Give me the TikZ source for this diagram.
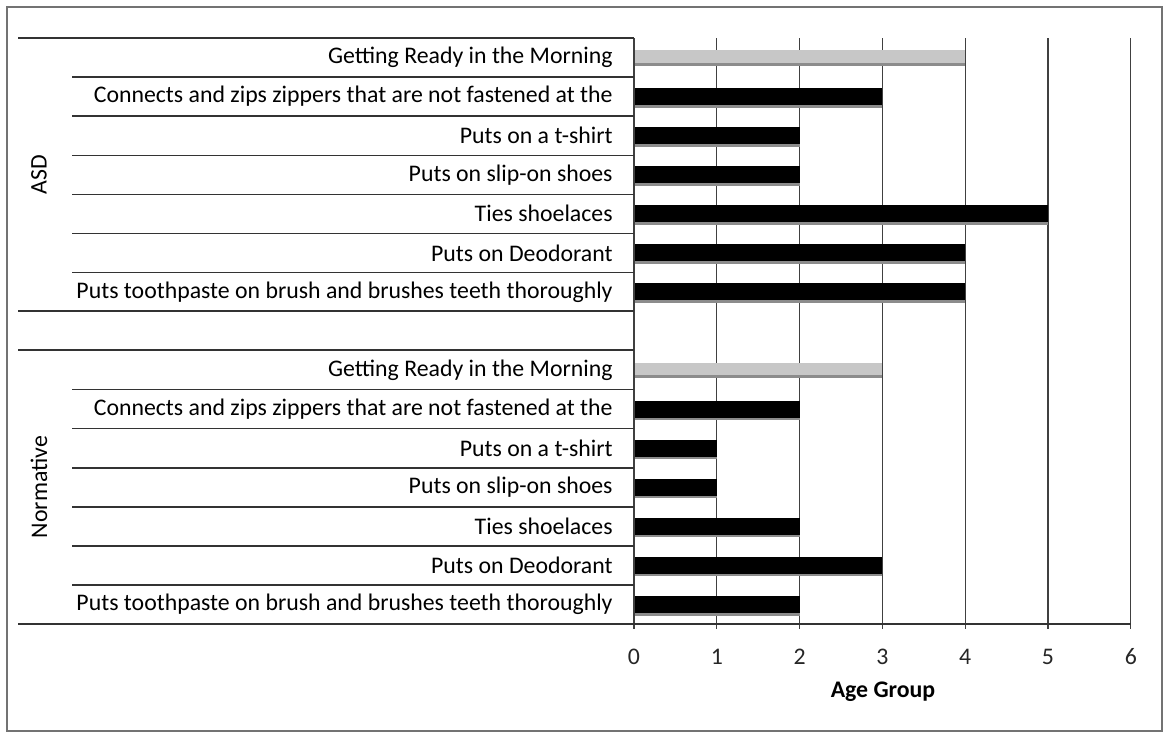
\documentclass[tikz,border=0pt]{standalone}
\usepackage{fontspec}
\setmainfont{Carlito}
\begin{document}
\begin{tikzpicture}[x=0.5pt,y=-0.5pt,
  lbl/.style={anchor=east,font=\fontsize{11.9}{14}\selectfont,inner sep=0pt,text=black},
  tick/.style={font=\fontsize{11.9}{14}\selectfont,inner sep=0pt,text=black!85},
  grp/.style={rotate=90,font=\fontsize{11.9}{14}\selectfont,inner sep=0pt},
  gridl/.style={line width=0.6pt,draw=black!75},
  catl/.style={line width=0.7pt,draw=black!80},
  blackbar/.style={fill=black,draw=none},
  shadowbar/.style={fill=black!45,draw=none},
  graybar/.style={fill=black!22,draw=none},
  graybarb/.style={fill=black!45,draw=none},
  frame/.style={line width=0.6pt,draw=black!55}]
\useasboundingbox (0,0) rectangle (1169,735);
\draw[frame] (7,7) rectangle (1162,731);
% gridlines
\foreach \k in {1,...,6}{
  \draw[gridl] ({634+82.8*\k},38) -- ({634+82.8*\k},629);
}
% bars and labels
\foreach \i/\v/\c/\t in {
0/4/g/{Getting Ready in the Morning},
1/3/b/{Connects and zips zippers that are not fastened at the},
2/2/b/{Puts on a t-shirt},
3/2/b/{Puts on slip-on shoes},
4/5/b/{Ties shoelaces},
5/4/b/{Puts on Deodorant},
6/4/b/{Puts toothpaste on brush and brushes teeth thoroughly},
8/3/g/{Getting Ready in the Morning},
9/2/b/{Connects and zips zippers that are not fastened at the},
10/1/b/{Puts on a t-shirt},
11/1/b/{Puts on slip-on shoes},
12/2/b/{Ties shoelaces},
13/3/b/{Puts on Deodorant},
14/2/b/{Puts toothpaste on brush and brushes teeth thoroughly}}{
  \pgfmathsetmacro\yc{38+39.07*(\i+0.5)}
  \pgfmathsetmacro\xe{634+82.8*\v}
  \node[lbl] (lab\i) at (613,\yc) {\t};
  \if\c g
    \fill[graybar] (634,\yc-7.5) rectangle (\xe,\yc+6);
    \fill[graybarb] (634,\yc+5) rectangle (\xe,\yc+8);
  \else
    \fill[shadowbar] (634,\yc-6) rectangle (\xe,\yc+11);
    \fill[blackbar] (634,\yc-8.5) rectangle (\xe,\yc+8.5);
  \fi
}
% axis
\draw[gridl] (634,38) -- (634,629);
\draw[catl] (18,624) -- (1131,624);
% category lines
\foreach \yy in {38,311,350}{
  \draw[catl] (18,\yy) -- (634,\yy);
}
\foreach \yy in {77.07,116.14,155.21,194.28,233.35,272.42,389.7,428.77,467.84,506.91,545.98,585.05}{
  \draw[catl] (72,\yy) -- (634,\yy);
}
% group labels
\node[grp] (asd) at (39,174.5) {ASD};
\node[grp] (norm) at (39,487) {Normative};
% tick labels
\foreach \k in {0,...,6}{
  \node[tick] (t\k) at ({634+82.8*\k},657) {\k};
}
\node[font=\fontsize{11.9}{14}\selectfont\bfseries,inner sep=0pt] (xlab) at (883,692) {Age Group};
\end{tikzpicture}
\end{document}
